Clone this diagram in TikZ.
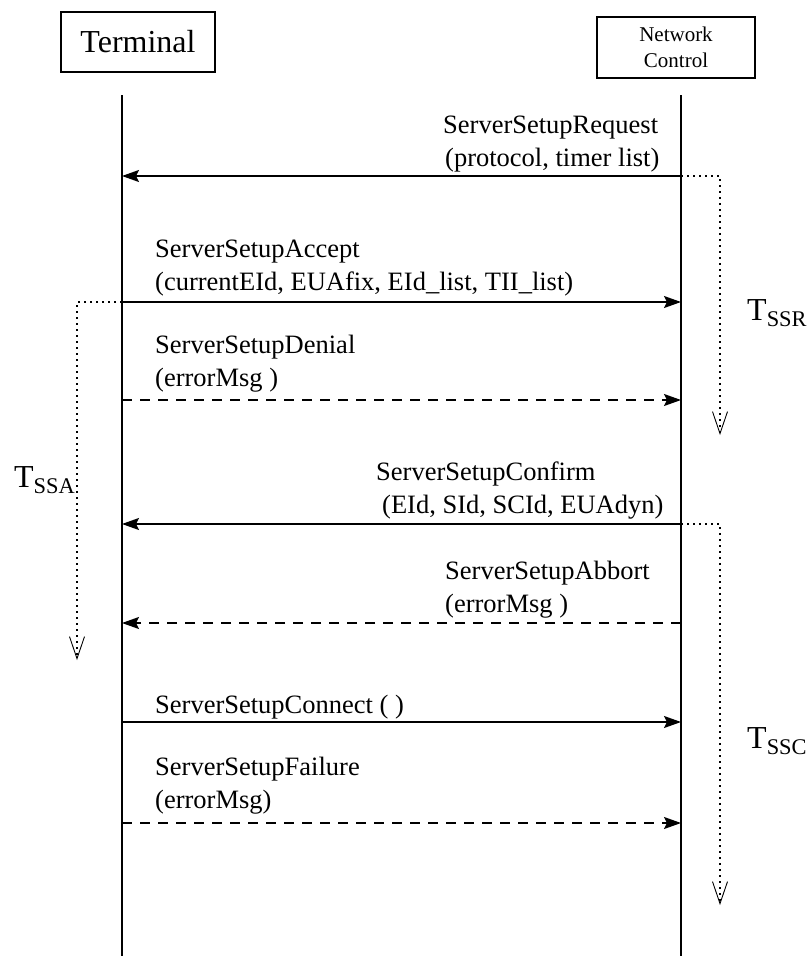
\documentclass[tikz,border=0pt]{standalone}
\usepackage{fontspec}
\setmainfont{Liberation Serif}
\usetikzlibrary{arrows.meta,positioning}

\begin{document}
\begin{tikzpicture}[
    x=1pt, y=-1pt,
    actor/.style={rectangle, draw, line width=1.6pt, inner sep=0pt, align=center},
    lifeline/.style={line width=1.6pt},
    msg/.style={line width=1.6pt, -{Stealth[length=17pt,width=12pt,inset=3pt]}},
    msgdash/.style={msg, dash pattern=on 10pt off 8pt},
    label/.style={anchor=base west, font=\fontsize{26.5}{30}\selectfont, inner sep=0pt},
    timer/.style={line width=1.2pt, dash pattern=on 2pt off 4pt, -{Straight Barb[length=22pt,width=15pt,line width=0.9pt]}},
    timername/.style={font=\fontsize{32}{36}\selectfont, inner sep=0pt},
]
    \useasboundingbox (0,0) rectangle (807,956);

    % participants
    \node[actor, minimum width=154pt, minimum height=60pt, font=\fontsize{32}{34}\selectfont] (term) at (138,42) {Terminal};
    \node[actor, minimum width=158pt, minimum height=61pt, font=\fontsize{21}{26}\selectfont] (net) at (676,47.5) {Network\\Control};

    \coordinate (termtop) at (122,95);
    \coordinate (termbot) at (122,956);
    \coordinate (nettop) at (681,95);
    \coordinate (netbot) at (681,956);
    \draw[lifeline] (termtop) -- (termbot);
    \draw[lifeline] (nettop) -- (netbot);

    % message ends
    \coordinate (n1) at (681,176);  \coordinate (t1) at (122,176);
    \coordinate (t2) at (122,302);  \coordinate (n2) at (681,302);
    \coordinate (t3) at (122,400);  \coordinate (n3) at (681,400);
    \coordinate (n4) at (681,524);  \coordinate (t4) at (122,524);
    \coordinate (n5) at (681,623);  \coordinate (t5) at (122,623);
    \coordinate (t6) at (122,722);  \coordinate (n6) at (681,722);
    \coordinate (t7) at (122,823);  \coordinate (n7) at (681,823);

    \draw[msg] (n1) -- (t1);
    \draw[msg] (t2) -- (n2);
    \draw[msgdash] (t3) -- (n3);
    \draw[msg] (n4) -- (t4);
    \draw[msgdash] (n5) -- (t5);
    \draw[msg] (t6) -- (n6);
    \draw[msgdash] (t7) -- (n7);

    % labels
    \node[label] (l1a) at (443,133) {ServerSetupRequest};
    \node[label] (l1b) at (445,166) {(protocol, timer list)};
    \node[label] (l2a) at (155,257) {ServerSetupAccept};
    \node[label] (l2b) at (155,290) {(currentEId, EUAfix, EId\_list, TII\_list)};
    \node[label] (l3a) at (155,353) {ServerSetupDenial};
    \node[label] (l3b) at (155,386) {(errorMsg )};
    \node[label] (l4a) at (376,480) {ServerSetupConfirm};
    \node[label] (l4b) at (382,513) {(EId, SId, SCId, EUAdyn)};
    \node[label] (l5a) at (445,579) {ServerSetupAbbort};
    \node[label] (l5b) at (445,612) {(errorMsg )};
    \node[label] (l6a) at (155,713) {ServerSetupConnect ( )};
    \node[label] (l7a) at (155,775) {ServerSetupFailure};
    \node[label] (l7b) at (155,808) {(errorMsg)};

    % timers
    \coordinate (ssrcorner) at (720,176);
    \coordinate (ssrend) at (720,435);
    \coordinate (ssacorner) at (77,302);
    \coordinate (ssaend) at (77,660);
    \coordinate (ssccorner) at (720,524);
    \coordinate (sscend) at (720,905);
    \draw[timer] (n1) -- (ssrcorner) -- (ssrend);
    \draw[timer] (t2) -- (ssacorner) -- (ssaend);
    \draw[timer] (n4) -- (ssccorner) -- (sscend);

    \node[timername, anchor=base west] (tssr) at (747,320) {T\textsubscript{SSR}};
    \node[timername, anchor=base west] (tssa) at (14,487) {T\textsubscript{SSA}};
    \node[timername, anchor=base west] (tssc) at (747,748) {T\textsubscript{SSC}};
\end{tikzpicture}
\end{document}
